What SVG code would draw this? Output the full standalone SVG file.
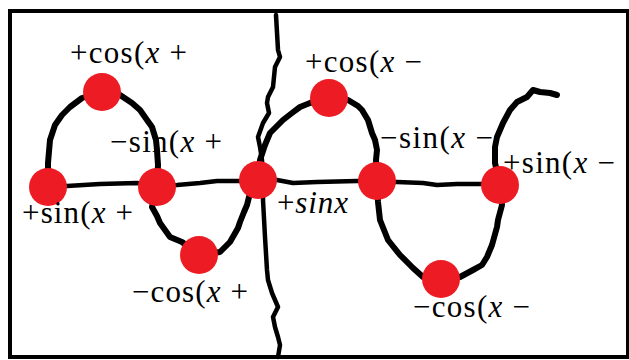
<svg xmlns="http://www.w3.org/2000/svg" width="629" height="360" viewBox="0 0 629 360">
<style>
.frame{fill:none;stroke:#000;stroke-width:4}
.axis{fill:none;stroke:#000;stroke-width:4.5;stroke-linejoin:round;stroke-linecap:round}
.wave{fill:none;stroke:#000;stroke-width:6;stroke-linejoin:round;stroke-linecap:round}
.dot{fill:#ED1C24}
.lbl{font-family:"Liberation Serif","Times New Roman",serif;font-size:31px;fill:#000}
.it{font-style:italic}
</style>
<rect class="frame" x="10" y="11" width="618" height="346"/>
<g id="connectors">
<path class="axis" d="M48,186 L67,186 L100,184 L137,183 L157,186 L177,185 L200,183 L217,181 L240,181 L258,180 L277,180 L293,183 L317,182 L357,181 L377,181 L397,182 L423,183 L437,185 L457,184 L482,184 L500,185"/>
<path class="axis" d="M276,15 L278,50 L280,57 L275,67 L273,87 L268,97 L267,103 L269,113 L263,123 L258,137 L260,147 L262,160 L263,180 L263,200 L265,237 L267,270 L268,280 L272,293 L278,307 L273,317 L275,327 L278,337 L280,345 L278,357"/>
<path class="wave" d="M48,186 L48,163 L50,140 L55,125 L62,115 L70,107 L82,98 L102,92 L120,95 L132,103 L140,110 L147,120 L152,127 L156,140 L157,150 L158,165 L157,186"/>
<path class="wave" d="M157,186 L152,207 L157,216 L160,223 L165,230 L170,237 L182,242 L199,255"/>
<path class="wave" d="M199,255 L220,252 L225,247 L230,242 L234,235 L238,228 L240,222 L244,212 L247,205 L250,193 L258,180"/>
<path class="wave" d="M258,180 L260,160 L265,145 L270,133 L283,120 L292,113 L300,107 L310,103 L329,98"/>
<path class="wave" d="M329,98 L348,100 L358,106 L362,110 L368,120 L372,133 L375,140 L377,150 L376,160 L377,181"/>
<path class="wave" d="M377,181 L378,202 L380,220 L388,240 L400,255 L413,268 L423,277 L441,279"/>
<path class="wave" d="M441,279 L460,277 L473,270 L482,265 L487,257 L492,245 L497,227 L498,220 L502,205 L500,185"/>
<path class="wave" d="M500,185 L495,163 L495,147 L497,137 L503,123 L510,110 L517,102 L527,97 L533,90 L540,92 L550,93 L557,95"/>
</g>
<g id="n1"><circle class="dot" cx="48" cy="187" r="19"/><text class="lbl" x="22" y="223" textLength="111" lengthAdjust="spacing">+sin(<tspan class="it">x</tspan> +</text></g>
<g id="n2"><circle class="dot" cx="102" cy="92" r="19"/><text class="lbl" x="70" y="63" textLength="117" lengthAdjust="spacing">+cos(<tspan class="it">x</tspan> +</text></g>
<g id="n3"><circle class="dot" cx="157" cy="187" r="19"/><text class="lbl" x="110" y="152" textLength="112" lengthAdjust="spacing">−sin(<tspan class="it">x</tspan> +</text></g>
<g id="n4"><circle class="dot" cx="199" cy="255" r="19"/><text class="lbl" x="132" y="302" textLength="116" lengthAdjust="spacing">−cos(<tspan class="it">x</tspan> +</text></g>
<g id="n5"><circle class="dot" cx="258" cy="180" r="19"/><text class="lbl" x="277" y="213" textLength="71" lengthAdjust="spacing">+<tspan class="it">sinx</tspan></text></g>
<g id="n6"><circle class="dot" cx="329" cy="98" r="19"/><text class="lbl" x="305" y="72" textLength="117" lengthAdjust="spacing">+cos(<tspan class="it">x</tspan> −</text></g>
<g id="n7"><circle class="dot" cx="377" cy="181" r="19"/><text class="lbl" x="380" y="148" textLength="113" lengthAdjust="spacing">−sin(<tspan class="it">x</tspan> −</text></g>
<g id="n8"><circle class="dot" cx="441" cy="279" r="19"/><text class="lbl" x="413" y="317" textLength="117" lengthAdjust="spacing">−cos(<tspan class="it">x</tspan> −</text></g>
<g id="n9"><circle class="dot" cx="500" cy="185" r="19"/><text class="lbl" x="503" y="173" textLength="112" lengthAdjust="spacing">+sin(<tspan class="it">x</tspan> −</text></g>
</svg>
